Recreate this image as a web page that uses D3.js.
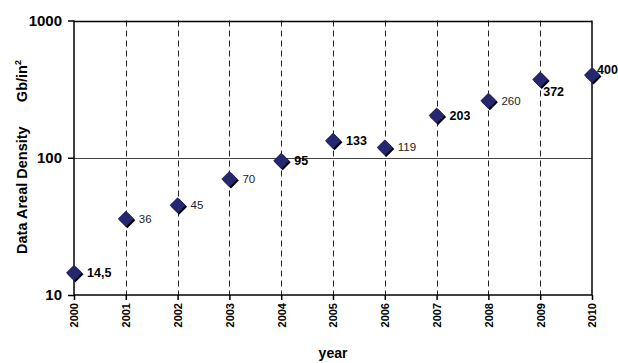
<!DOCTYPE html>
<html>
<head>
<meta charset="utf-8">
<script src="https://cdn.jsdelivr.net/npm/d3@7"></script>
<style>
  body { margin: 0; background: #fff; }
  text { font-family: "Liberation Sans", Arial, sans-serif; }
</style>
</head>
<body>
<script>
// data
const years = [2000, 2001, 2002, 2003, 2004, 2005, 2006, 2007, 2008, 2009, 2010];
const density = [14.5, 36, 45, 70, 95, 133, 119, 203, 260, 372, 400];
const labels = ["14,5", "36", "45", "70", "95", "133", "119", "203", "260", "372", "400"];
const yTicks = [10, 100, 1000];

const width = 618, height = 363;
const margin = {top: 20.5, right: 26, bottom: 68, left: 74};

// bold labels and odd label placements (style only)
const boldYears = [2000, 2004, 2005, 2007, 2009, 2010];
const labelOffset = y => y === 2009 ? [3, 17] : y === 2010 ? [5, -1] : [13, 4];

const svg = d3.select("body").append("svg")
    .attr("width", width)
    .attr("height", height);

const xscale = d3.scaleLinear()
    .domain([2000, 2010])
    .range([margin.left, width - margin.right]);

const yscale = d3.scaleLog()
    .domain([10, 1000])
    .range([height - margin.bottom, margin.top]);

// vertical dashed gridlines
svg.append("g")
    .selectAll("line")
    .data(years.slice(1, -1))
    .enter()
    .append("line")
    .attr("x1", d => Math.round(xscale(d)) + 0.5)
    .attr("x2", d => Math.round(xscale(d)) + 0.5)
    .attr("y1", yscale(1000))
    .attr("y2", yscale(10))
    .attr("stroke", "#222")
    .attr("stroke-width", 1)
    .attr("stroke-dasharray", "6,4");

// horizontal gridline at 100 and top border
svg.append("g")
    .selectAll("line")
    .data([100, 1000])
    .enter()
    .append("line")
    .attr("x1", xscale(2000))
    .attr("x2", xscale(2010))
    .attr("y1", d => Math.round(yscale(d)) + 0.5)
    .attr("y2", d => Math.round(yscale(d)) + 0.5)
    .attr("stroke", d => d === 100 ? "#444" : "#000")
    .attr("stroke-width", d => d === 100 ? 1 : 1.5);

// right border
svg.append("line")
    .attr("x1", xscale(2010))
    .attr("x2", xscale(2010))
    .attr("y1", yscale(1000))
    .attr("y2", yscale(10))
    .attr("stroke", "#000")
    .attr("stroke-width", 1.5);

// axes
const yaxis = d3.axisLeft(yscale)
    .tickValues(yTicks)
    .tickFormat(d3.format("d"))
    .tickSize(6)
    .tickPadding(6);

const xaxis = d3.axisBottom(xscale)
    .tickValues(years)
    .tickFormat(d3.format("d"))
    .tickSize(5);

const gy = svg.append("g")
    .attr("transform", `translate(${margin.left},0)`)
    .call(yaxis);
gy.select(".domain").attr("stroke-width", 1.5).attr("d", `M-0,${yscale(1000)}V${yscale(10)}`);
gy.selectAll(".tick line").attr("stroke-width", 1.5);
gy.selectAll(".tick text")
    .attr("font-size", 15)
    .attr("font-weight", "bold")
    .attr("fill", "#000");

const gx = svg.append("g")
    .attr("transform", `translate(0,${height - margin.bottom})`)
    .call(xaxis);
gx.select(".domain").attr("stroke-width", 1.5).attr("d", `M${xscale(2000)},0H${xscale(2010)}`);
gx.selectAll(".tick line").attr("stroke-width", 1.5);
gx.selectAll(".tick text")
    .attr("font-size", 11)
    .attr("font-weight", "bold")
    .attr("fill", "#000")
    .attr("text-anchor", "end")
    .attr("dy", "0.35em")
    .attr("transform", "translate(0,8) rotate(-90)")
    .attr("x", 0)
    .attr("y", 0);

// axis titles
svg.append("text")
    .attr("x", xscale(2005))
    .attr("y", 358)
    .attr("text-anchor", "middle")
    .attr("font-size", 14)
    .attr("font-weight", "bold")
    .text("year");

const ytitle = svg.append("text")
    .attr("transform", "translate(27,157) rotate(-90)")
    .attr("text-anchor", "middle")
    .attr("font-size", 14.5)
    .attr("font-weight", "bold")
    .attr("xml:space", "preserve");
ytitle.append("tspan").text("Data Areal Density      Gb/in");
ytitle.append("tspan").attr("font-size", 9).attr("dy", -6).text("2");

// points: shadow + diamond
const pts = years.map((y, i) => ({year: y, value: density[i], label: labels[i]}));
const diamond = "M0,-8L8,0L0,8L-8,0Z";

svg.append("g")
    .selectAll("path")
    .data(pts)
    .enter()
    .append("path")
    .attr("d", diamond)
    .attr("transform", d => `translate(${xscale(d.year) + 1.5},${yscale(d.value) + 1.5})`)
    .attr("fill", "#000");

svg.append("g")
    .selectAll("path")
    .data(pts)
    .enter()
    .append("path")
    .attr("d", diamond)
    .attr("transform", d => `translate(${xscale(d.year)},${yscale(d.value)})`)
    .attr("fill", "#27276f");

// value labels
svg.append("g")
    .selectAll("text")
    .data(pts)
    .enter()
    .append("text")
    .attr("x", d => xscale(d.year) + labelOffset(d.year)[0])
    .attr("y", d => yscale(d.value) + labelOffset(d.year)[1])
    .attr("font-size", d => boldYears.includes(d.year) ? 12.5 : 11.5)
    .attr("font-weight", d => boldYears.includes(d.year) ? "bold" : "normal")
    .attr("fill", d => boldYears.includes(d.year) ? "#000" : "#222")
    .text(d => d.label);
</script>
</body>
</html>
